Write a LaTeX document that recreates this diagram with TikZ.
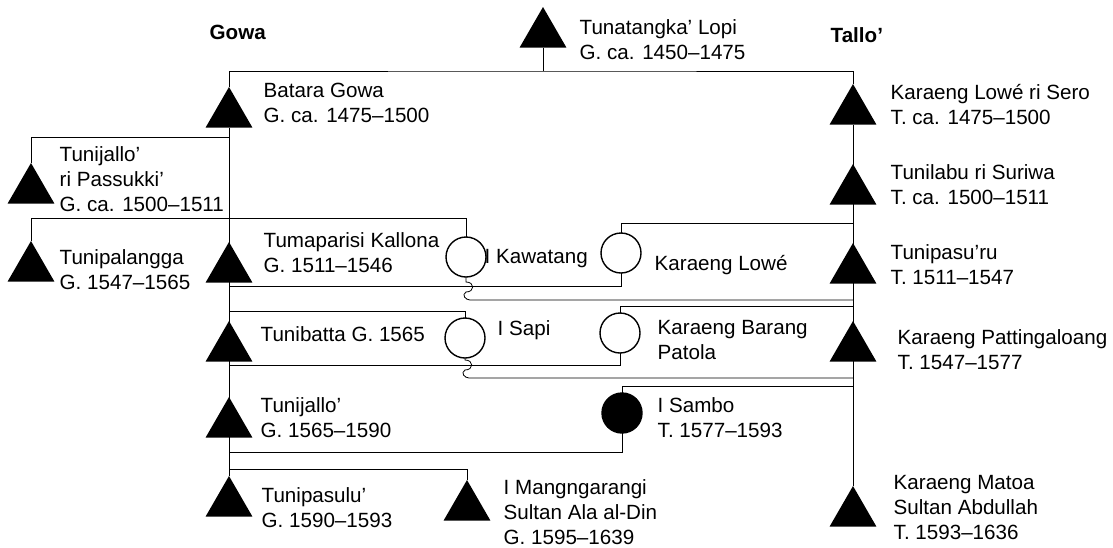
\documentclass[tikz,border=0pt]{standalone}
\usepackage{fontspec}
\setmainfont{Liberation Sans}
\usetikzlibrary{shapes.geometric}
\pgfdeclarelayer{bg}
\pgfsetlayers{bg,main}

\begin{document}
\begin{tikzpicture}[x=0.5pt, y=-0.5pt, line width=0.7pt,
    man/.style={fill, regular polygon, regular polygon sides=3, minimum size=27pt, inner sep=0pt, outer sep=0pt, anchor=north},
    woman/.style={draw, fill=white, circle, minimum size=20pt, inner sep=0pt, outer sep=0pt},
    lbl/.style={anchor=base west, align=left, inner sep=0pt, font=\fontsize{10.3}{12.3}\selectfont},
    house/.style={lbl, font=\fontsize{10.3}{12.3}\selectfont\bfseries}]
      \useasboundingbox (0,0) rectangle (1113,547);

      \node[house] (lGowa) at (209,39) {Gowa};
      \node[house] (lTallo) at (830,42) {Tallo’};

      % Gowa side
      \node[man] (tLopi) at (543,7) {};
      \node[man] (tBatara) at (229,87) {};
      \node[man] (tPassukki) at (31,163) {};
      \node[man] (tPalangga) at (31,241) {};
      \node[man] (tKallona) at (229,242) {};
      \node[man] (tBatta) at (229,321) {};
      \node[man] (tJallo) at (229,397) {};
      \node[man] (tPasulu) at (229,476) {};
      \node[man] (tMang) at (467,480) {};

      % Tallo' side
      \node[man] (tSero) at (853,84) {};
      \node[man] (tSuriwa) at (853,164) {};
      \node[man] (tPasuru) at (853,243) {};
      \node[man] (tPatt) at (853,321) {};
      \node[man] (tMatoa) at (853,486) {};

      \node[woman] (cKawatang) at (466,257) {};
      \node[woman] (cLowe) at (621,253) {};
      \node[woman] (cSapi) at (465,338) {};
      \node[woman] (cBarang) at (620,333) {};
      \node[woman, fill=black] (cSambo) at (622,413) {};

      % base = last line
      \node[lbl] (lLopi) at (579,59) {Tunatangka’ Lopi\\G. ca. 1450–1475};
      \node[lbl] (lBatara) at (263,122) {Batara Gowa\\G. ca. 1475–1500};
      \node[lbl] (lSero) at (890,124) {Karaeng Lowé ri Sero\\T. ca. 1475–1500};
      \node[lbl] (lPassukki) at (59,211) {Tunijallo’\\ri Passukki’\\G. ca. 1500–1511};
      \node[lbl] (lSuriwa) at (890,204) {Tunilabu ri Suriwa\\T. ca. 1500–1511};
      \node[lbl] (lKallona) at (263,272) {Tumaparisi Kallona\\G. 1511–1546};
      \node[lbl] (lPalangga) at (59,289) {Tunipalangga\\G. 1547–1565};
      \node[lbl] (lKawatang) at (484,263) {I Kawatang};
      \node[lbl] (lLowe) at (654,270) {Karaeng Lowé};
      \node[lbl] (lPasuru) at (890,284) {Tunipasu’ru\\T. 1511–1547};
      \node[lbl] (lBatta) at (260,341) {Tunibatta G. 1565};
      \node[lbl] (lSapi) at (497,335) {I Sapi};
      \node[lbl] (lBarang) at (657,359) {Karaeng Barang\\Patola};
      \node[lbl] (lPatt) at (897,369) {Karaeng Pattingaloang\\T. 1547–1577};
      \node[lbl] (lJallo) at (260,437) {Tunijallo’\\G. 1565–1590};
      \node[lbl] (lSambo) at (657,437) {I Sambo\\T. 1577–1593};
      \node[lbl] (lPasulu) at (261,527) {Tunipasulu’\\G. 1590–1593};
      \node[lbl] (lMang) at (503,544) {I Mangngarangi\\Sultan Ala al-Din\\G. 1595–1639};
      \node[lbl] (lMatoa) at (893,539) {Karaeng Matoa\\Sultan Abdullah\\T. 1593–1636};

      \coordinate (top) at (543,71);
      \coordinate (gP) at (229,137);
      \coordinate (sib) at (31,218);
      \coordinate (tL) at (853,223);
      \coordinate (m1) at (229,286);
      \coordinate (w1) at (853,300);
      \coordinate (t2) at (853,306);
      \coordinate (g2) at (229,311);
      \coordinate (m2) at (229,365);
      \coordinate (w2) at (853,378);
      \coordinate (t3) at (853,386);
      \coordinate (m3) at (229,452);
      \coordinate (g4) at (229,469);

      \begin{pgfonlayer}{bg}
      \draw (tLopi) -- (top);
      \draw (tBatara.north) |- (top) -| (tSero.north);
      \draw (tBatara) -- (tPasulu.north);
      \draw (tSero) -- (tMatoa.north);
      \draw (gP) -| (tPassukki.north);
      \draw (tPalangga.north) -- (sib) -| (cKawatang.north);
      \draw (tL) -| (cLowe.north);
      \draw (m1) -| (cLowe.south);
      \draw (cKawatang.south) -- ++(0,5) .. controls +(9,0) and +(9,0) .. ++(0,10)
            .. controls +(-5,3) and +(-4,0) .. ++(4,8) -- (w1);
      \draw (t2) -| (cBarang.north);
      \draw (g2) -| (cSapi.north);
      \draw (m2) -| (cBarang.south);
      \draw (cSapi.south) -- ++(0,2) .. controls +(9,0) and +(9,0) .. ++(0,10)
            .. controls +(-5,3) and +(-4,0) .. ++(4,8) -- (w2);
      \draw (t3) -| (cSambo.north);
      \draw (m3) -| (cSambo.south);
      \draw (g4) -| (tMang.north);
      \end{pgfonlayer}
    \end{tikzpicture}
\end{document}
